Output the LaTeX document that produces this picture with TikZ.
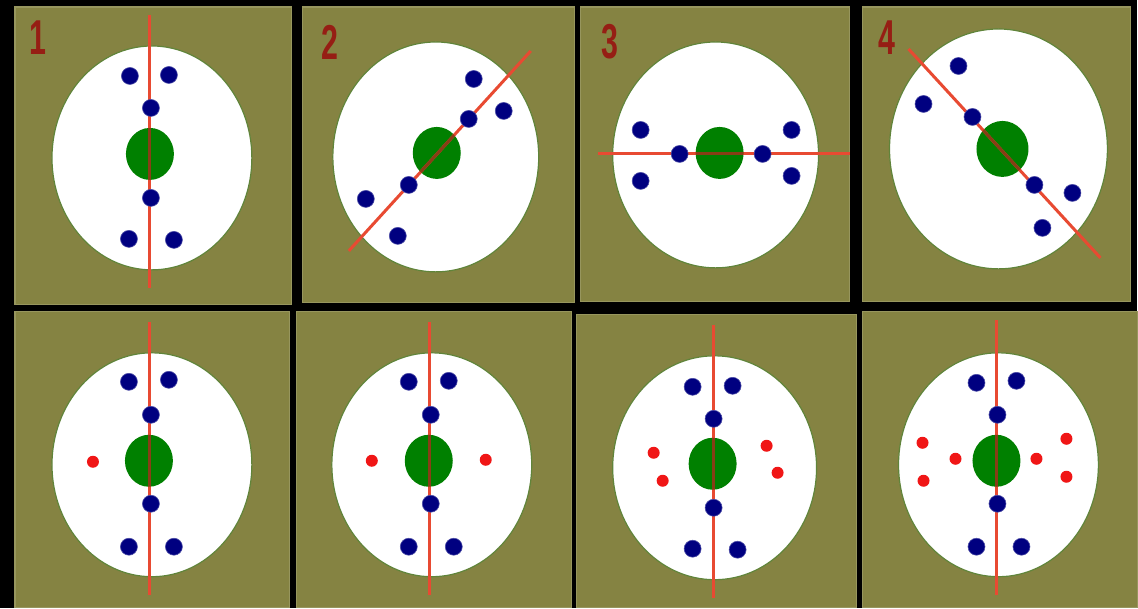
\documentclass[tikz,border=0pt]{standalone}
\usepackage{fontspec}
\newfontfamily\numfont{Liberation Sans}
\definecolor{paneloil}{RGB}{133,131,66}
\definecolor{rimgreen}{RGB}{96,132,58}
\definecolor{nucgreen}{RGB}{0,128,0}
\definecolor{dotblue}{RGB}{0,0,128}
\definecolor{axisred}{RGB}{232,74,50}
\definecolor{axisdark}{RGB}{135,62,22}
\definecolor{spotred}{RGB}{240,22,22}
\definecolor{numred}{RGB}{150,30,20}
\begin{document}
\begin{tikzpicture}[x=1pt,y=-1pt,
	panel/.style={fill=paneloil,draw=paneloil!85!white,line width=1.2pt},
	cell/.style={fill=white,draw=rimgreen,line width=1.2pt},
	axis/.style={axisred,line width=3pt},
	bluedot/.style={fill=dotblue,draw=dotblue!70!white,line width=0.6pt},
	reddot/.style={fill=spotred},
	number/.style={numred,font=\numfont\bfseries\fontsize{49}{49}\selectfont,xscale=0.62,inner sep=0pt}]
	\fill[black] (0,0) rectangle (1138,608);
	\foreach \xa/\ya/\xb/\yb in {15/7/292/305,303/7/575/303,581/7/850/302,863/7/1131/302,15/312/290/608,297/312/572/608,577/315/857/608,863/312/1138/608} \draw[panel] (\xa,\ya) rectangle (\xb,\yb);
	\foreach \cx/\cy/\rx/\ry in {152/158/100/112,436/157/103/115,716/155/103/113,999/149/109/120,152/465/100/112,432/465/100/112,715/468/102/112,999/465/100/112} \draw[cell] (\cx,\cy) ellipse [x radius=\rx pt,y radius=\ry pt];
	% nucleus, axis, darker axis inside the nucleus
	\foreach \nx/\ny/\nr/\ax/\ay/\bx/\by in {150/154/24/150/15/150/288,437/153/24/349/251/531/51,720/153/24/598/154/850/154,1003/149/26/909/49/1101/258,149/461/24/150/322/150/595,429/461/24/430/322/430/595,713/464/24/714/325/714/598,997/461/24/997/320/997/595} {
		\fill[nucgreen] (\nx,\ny) ellipse [x radius=\nr pt,y radius=\nr pt+2pt];
		\draw[axis] (\ax,\ay) -- (\bx,\by);
		\begin{scope}
			\clip (\nx,\ny) ellipse [x radius=\nr pt,y radius=\nr pt+2pt];
			\draw[axis,axisdark] (\ax,\ay) -- (\bx,\by);
		\end{scope}
	}
	\foreach \p in {(130,76),(169,75),(151,108),(151,198),(129,239),(174,240),
		(474,79),(504,111),(469,119),(409,185),(366,199),(398,236),
		(641,130),(641,181),(680,154),(763,154),(792,130),(792,176),
		(959,66),(924,104),(973,117),(1035,185),(1073,193),(1043,228),
		(129,382),(169,380),(151,415),(151,504),(129,547),(174,547),
		(409,382),(449,381),(431,415),(431,504),(409,547),(454,547),
		(693,387),(733,386),(714,419),(714,508),(693,549),(738,550),
		(977,383),(1017,381),(998,415),(998,504),(977,547),(1022,547)} \draw[bluedot] \p circle (8.5pt);
	\foreach \p in {(93,462),(372,461),(486,460),(654,453),(663,481),(767,446),(778,473),
		(923,443),(924,481),(956,459),(1037,459),(1067,439),(1067,477)} \fill[reddot] \p circle (6pt);
	\node[number] (num1) at (38,38) {1};
	\node[number] (num2) at (330,42) {2};
	\node[number] (num3) at (610,42) {3};
	\node[number] (num4) at (887,38) {4};
\end{tikzpicture}
\end{document}
